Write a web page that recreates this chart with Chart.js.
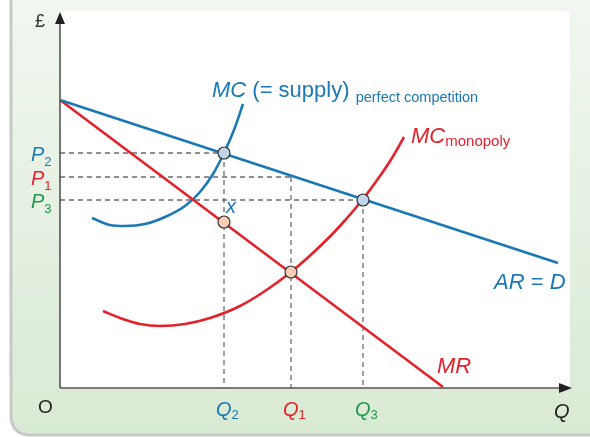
<!DOCTYPE html>
<html>
<head>
<meta charset="utf-8">
<script src="https://cdn.jsdelivr.net/npm/chart.js@4/dist/chart.umd.min.js"></script>
<style>
  html, body { margin: 0; padding: 0; background: #fff; }
  canvas { display: block; }
</style>
</head>
<body>
<canvas id="monopolyChart" width="590" height="437"></canvas>
<script>
// data units: quantity along x, price (£) along y
const arLine = [[0, 288], [498, 125]];
const mrLine = [[0, 288], [383, 1]];
const mcPerfect = [[32, 170], [50, 163], [65, 162], [85, 164], [105, 171], [125, 182],
  [140, 196], [153, 214], [164, 235], [174, 258], [183, 284]];
const mcMonopoly = [[43, 77], [60, 70], [80, 64], [100, 62], [125, 64], [150, 70], [180, 82],
  [205, 97], [231, 116], [255, 137], [280, 162], [303, 189], [320, 212], [332, 230], [344, 251]];

// equilibrium quantities and prices
const qLabels = ['2', '1', '3'];
const qValues = [164, 231, 303];
const pValues = [235, 211, 188];
const qColors = ['#1a78b6', '#e4222b', '#1f9a4c'];

// marked points
const bluePoints = [[164, 235], [303, 188]];
const pinkPoints = [[164, 166], [231, 116]];

const BLUE = '#1a78b6', RED = '#e4222b';
const FONT = '"Liberation Sans", Arial, sans-serif';

const xy = arr => arr.map(p => ({ x: p[0], y: p[1] }));

// dashed guide lines
const guides = [];
qValues.forEach((q, i) => {
  guides.push({ data: [{ x: 0, y: pValues[i] }, { x: q, y: pValues[i] }] });
  guides.push({ data: [{ x: q, y: pValues[i] }, { x: q, y: 0 }] });
});

const datasets = [
  { data: xy(bluePoints), pointRadius: 6, pointBackgroundColor: '#c3d5e8', pointBorderColor: '#333',
    pointBorderWidth: 1.2, showLine: false, order: 0 },
  { data: xy(pinkPoints), pointRadius: 6, pointBackgroundColor: '#f7cdb6', pointBorderColor: '#333',
    pointBorderWidth: 1.2, showLine: false, order: 0 },
  { data: xy(arLine), borderColor: BLUE, borderWidth: 2.6, order: 1 },
  { data: xy(mrLine), borderColor: RED, borderWidth: 2.6, order: 1 },
  { data: xy(mcPerfect), borderColor: BLUE, borderWidth: 2.6, cubicInterpolationMode: 'monotone', order: 1 },
  { data: xy(mcMonopoly), borderColor: RED, borderWidth: 2.6, cubicInterpolationMode: 'monotone', order: 1 },
  ...guides.map(g => ({ data: g.data, borderColor: '#6b6b6b', borderWidth: 1.3, borderDash: [5, 4], order: 2 }))
].map(d => Object.assign({ showLine: true, pointRadius: 0, fill: false, clip: false }, d));

// draw a row of text pieces with different fonts
function drawRuns(ctx, x, y, runs) {
  runs.forEach(r => {
    ctx.font = r.font;
    ctx.fillStyle = r.color;
    ctx.fillText(r.t, x, y + (r.dy || 0));
    x += ctx.measureText(r.t).width;
  });
}

const backdrop = {
  id: 'backdrop',
  beforeDraw(chart) {
    const ctx = chart.ctx;
    const { left, top, right, bottom } = chart.chartArea;
    ctx.save();
    ctx.fillStyle = '#fff';
    ctx.fillRect(0, 0, chart.width, chart.height);
    // green panel with rounded bottom-left corner
    const g = ctx.createLinearGradient(0, 0, 0, 435);
    g.addColorStop(0, '#f1f7f0');
    g.addColorStop(1, '#d9ead4');
    ctx.beginPath();
    ctx.moveTo(11, -5);
    ctx.lineTo(11, 415);
    ctx.quadraticCurveTo(11, 435, 31, 435);
    ctx.lineTo(600, 435);
    ctx.lineTo(600, -5);
    ctx.closePath();
    ctx.fillStyle = g;
    ctx.fill();
    ctx.strokeStyle = '#c6c9c6';
    ctx.lineWidth = 3;
    ctx.stroke();
    ctx.fillStyle = '#fff';
    ctx.fillRect(left, top, right - left, bottom - top);
    ctx.restore();
  }
};

const axesAndText = {
  id: 'axesAndText',
  afterDatasetsDraw(chart) {
    const ctx = chart.ctx;
    const xs = chart.scales.x, ys = chart.scales.y;
    const x0 = xs.getPixelForValue(0), y0 = ys.getPixelForValue(0);
    const { top, right } = chart.chartArea;
    ctx.save();
    ctx.strokeStyle = '#555';
    ctx.lineWidth = 1.6;
    ctx.beginPath();
    ctx.moveTo(x0, y0);
    ctx.lineTo(x0, top + 8);
    ctx.moveTo(x0, y0);
    ctx.lineTo(right - 8, y0);
    ctx.stroke();
    ctx.fillStyle = '#222';
    ctx.beginPath();
    ctx.moveTo(x0, top + 1);
    ctx.lineTo(x0 - 5, top + 13);
    ctx.lineTo(x0 + 5, top + 13);
    ctx.closePath();
    ctx.fill();
    ctx.beginPath();
    ctx.moveTo(right + 2, y0);
    ctx.lineTo(right - 11, y0 - 5);
    ctx.lineTo(right - 11, y0 + 5);
    ctx.closePath();
    ctx.fill();

    ctx.textBaseline = 'alphabetic';
    ctx.textAlign = 'left';
    const it = s => 'italic ' + s + 'px ' + FONT;
    const nm = s => s + 'px ' + FONT;

    drawRuns(ctx, 35, 27, [{ t: '£', font: nm(18), color: '#333' }]);
    drawRuns(ctx, 38, 413, [{ t: 'O', font: nm(19), color: '#222' }]);
    drawRuns(ctx, 554, 418, [{ t: 'Q', font: it(20), color: '#222' }]);

    // price and quantity labels
    qValues.forEach((q, i) => {
      const py = ys.getPixelForValue(pValues[i]);
      drawRuns(ctx, 31, py + 7.5, [
        { t: 'P', font: it(20), color: qColors[i] },
        { t: qLabels[i], font: nm(13), color: qColors[i], dy: 5 }
      ]);
      const qx = xs.getPixelForValue(q);
      drawRuns(ctx, qx - 8, 416, [
        { t: 'Q', font: it(20), color: qColors[i] },
        { t: qLabels[i], font: nm(13), color: qColors[i], dy: 3 }
      ]);
    });

    drawRuns(ctx, 212, 97, [
      { t: 'MC', font: it(22), color: BLUE },
      { t: ' (= supply) ', font: nm(22), color: BLUE },
      { t: 'perfect competition', font: nm(14.5), color: BLUE, dy: 5 }
    ]);
    drawRuns(ctx, 411, 143, [
      { t: 'MC', font: it(22), color: RED },
      { t: 'monopoly', font: nm(15), color: RED, dy: 3 }
    ]);
    drawRuns(ctx, 494, 289, [
      { t: 'AR', font: it(22), color: BLUE },
      { t: ' = ', font: nm(22), color: BLUE },
      { t: 'D', font: it(22), color: BLUE }
    ]);
    drawRuns(ctx, 437, 373, [{ t: 'MR', font: it(22), color: RED }]);
    drawRuns(ctx, 226, 213, [{ t: 'x', font: it(20), color: BLUE }]);
    ctx.restore();
  }
};

new Chart(document.getElementById('monopolyChart'), {
  type: 'scatter',
  data: { datasets },
  options: {
    responsive: false,
    animation: false,
    layout: { padding: { left: 60, right: 20, top: 11, bottom: 49 } },
    plugins: { legend: { display: false }, tooltip: { enabled: false } },
    scales: {
      x: { type: 'linear', min: 0, max: 510, display: false },
      y: { type: 'linear', min: 0, max: 377, display: false }
    }
  },
  plugins: [backdrop, axesAndText]
});
</script>
</body>
</html>
